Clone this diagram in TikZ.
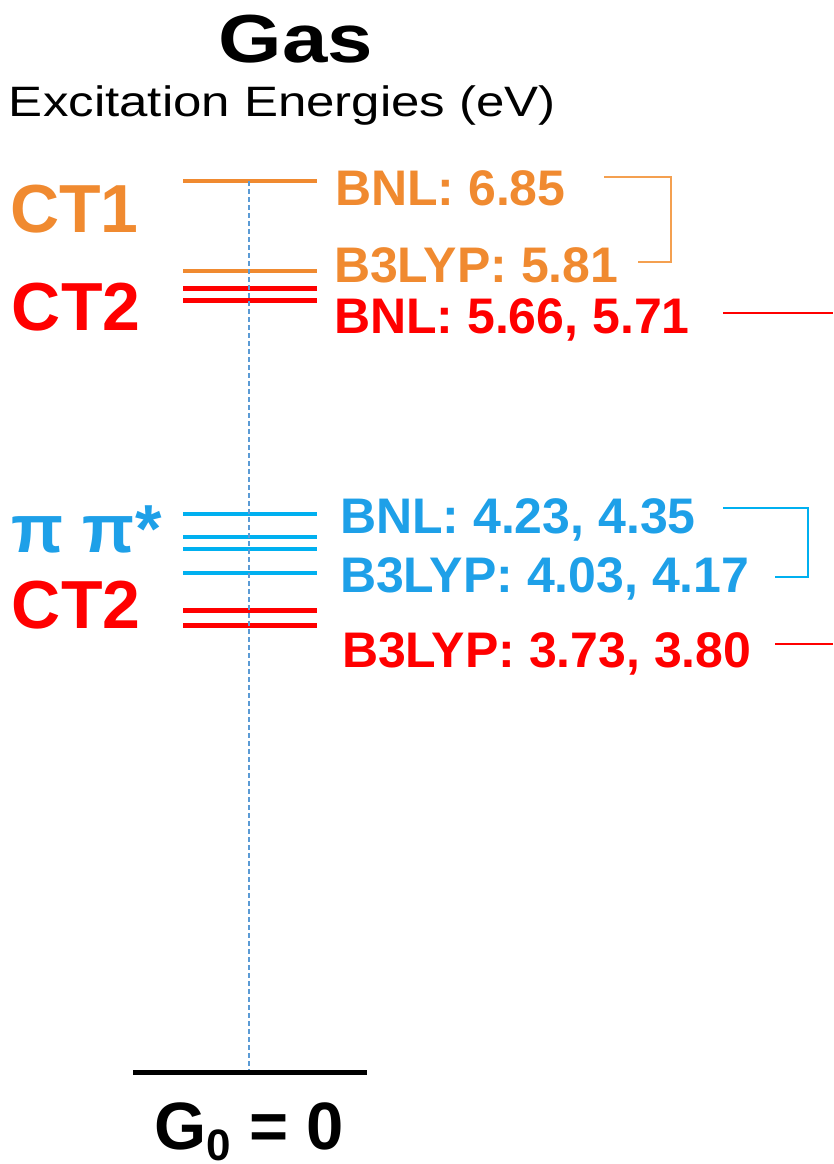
\documentclass[tikz,border=0pt]{standalone}
\usepackage{fontspec}
\setmainfont{Liberation Sans}
\usetikzlibrary{calc}

\definecolor{ctorange}{RGB}{240,138,48}
\definecolor{brorange}{RGB}{244,160,80}
\definecolor{ctred}{RGB}{255,0,0}
\definecolor{piblue}{RGB}{30,160,232}
\definecolor{lvlblue}{RGB}{0,176,240}
\definecolor{axisblue}{RGB}{91,155,213}

\begin{document}
\begin{tikzpicture}[x=1pt,y=-1pt,
  txt/.style={anchor=base west, inner sep=0pt, outer sep=0pt},
  val/.style={txt, font=\bfseries\fontsize{50}{50}\selectfont},
  state/.style={txt, font=\bfseries\fontsize{68}{68}\selectfont},
  level/.style={line width=4.5pt},
  bracket/.style={line width=2.2pt},
  axis/.style={axisblue, line width=1.3pt, dash pattern=on 5pt off 3pt}]
\useasboundingbox (0,0) rectangle (833,1164);

% header
\node[anchor=base, inner sep=0pt, font=\bfseries\fontsize{68}{68}\selectfont] (title) at (296,63) {\scalebox{1.2}[1]{Gas}};
\node[txt, font=\fontsize{42.5}{42.5}\selectfont] (unit) at (9,116) {\scalebox{1.2}[1]{Excitation Energies (eV)}};

% energy levels
\coordinate (ct1a) at (183,181);  \coordinate (ct1b) at (317,181);
\coordinate (ct1c) at (183,271);  \coordinate (ct1d) at (317,271);
\coordinate (ct2a) at (183,288);  \coordinate (ct2b) at (317,288);
\coordinate (ct2c) at (183,300);  \coordinate (ct2d) at (317,300);
\coordinate (pp1a) at (183,514);  \coordinate (pp1b) at (317,514);
\coordinate (pp2a) at (183,537);  \coordinate (pp2b) at (317,537);
\coordinate (pp3a) at (183,549);  \coordinate (pp3b) at (317,549);
\coordinate (pp4a) at (183,573);  \coordinate (pp4b) at (317,573);
\coordinate (ct3a) at (183,610);  \coordinate (ct3b) at (317,610);
\coordinate (ct4a) at (183,625);  \coordinate (ct4b) at (317,625);
\coordinate (g0a)  at (133,1072); \coordinate (g0b)  at (367,1072);

\draw[level, ctorange, line width=4pt] (ct1a) -- (ct1b);
\draw[level, ctorange, line width=4pt] (ct1c) -- (ct1d);
\draw[level, ctred, line width=5pt] (ct2a) -- (ct2b);
\draw[level, ctred, line width=5pt] (ct2c) -- (ct2d);
\draw[level, lvlblue] (pp1a) -- (pp1b);
\draw[level, lvlblue] (pp2a) -- (pp2b);
\draw[level, lvlblue] (pp3a) -- (pp3b);
\draw[level, lvlblue] (pp4a) -- (pp4b);
\draw[level, ctred, line width=5pt] (ct3a) -- (ct3b);
\draw[level, ctred, line width=5pt] (ct4a) -- (ct4b);
\draw[level, black, line width=5pt] (g0a) -- (g0b);

% vertical guide
\coordinate (axtop) at (249,181);
\coordinate (axbot) at (249,1070);
\draw[axis] (axtop) -- (axbot);

% state labels
\node[state, ctorange] (lct1) at (10,232) {CT1};
\node[state, ctred] (lct2) at (12,330) {CT2};
\node[state, piblue] (lpp) at (12,552) {π π*};
\node[state, ctred] (lct3) at (12,628) {CT2};

% values
\node[val, ctorange] (v1) at (335,205) {BNL: 6.85};
\node[val, ctorange] (v2) at (334,282) {B3LYP: 5.81};
\node[val, ctred] (v3) at (334,333) {BNL: 5.66, 5.71};
\node[val, piblue] (v4) at (340,533) {BNL: 4.23, 4.35};
\node[val, piblue] (v5) at (340,592) {B3LYP: 4.03, 4.17};
\node[val, ctred] (v6) at (342,667) {B3LYP: 3.73, 3.80};

% ground state
\node[txt, font=\bfseries\fontsize{67}{67}\selectfont] (g0) at (154,1149)
  {G\raisebox{-11pt}{\fontsize{44}{44}\selectfont 0} = 0};

% brackets and leaders
\coordinate (ob1) at (604,177); \coordinate (ob2) at (671,177);
\coordinate (ob3) at (671,262); \coordinate (ob4) at (638,262);
\draw[bracket, brorange] (ob1) -- (ob2) -- (ob3) -- (ob4);
\coordinate (rl1) at (723,313); \coordinate (rl2) at (833,313);
\draw[bracket, ctred] (rl1) -- (rl2);
\coordinate (bb1) at (723,508); \coordinate (bb2) at (808,508);
\coordinate (bb3) at (808,577); \coordinate (bb4) at (775,577);
\draw[bracket, lvlblue] (bb1) -- (bb2) -- (bb3) -- (bb4);
\coordinate (rm1) at (775,644); \coordinate (rm2) at (833,644);
\draw[bracket, ctred] (rm1) -- (rm2);
\end{tikzpicture}
\end{document}
